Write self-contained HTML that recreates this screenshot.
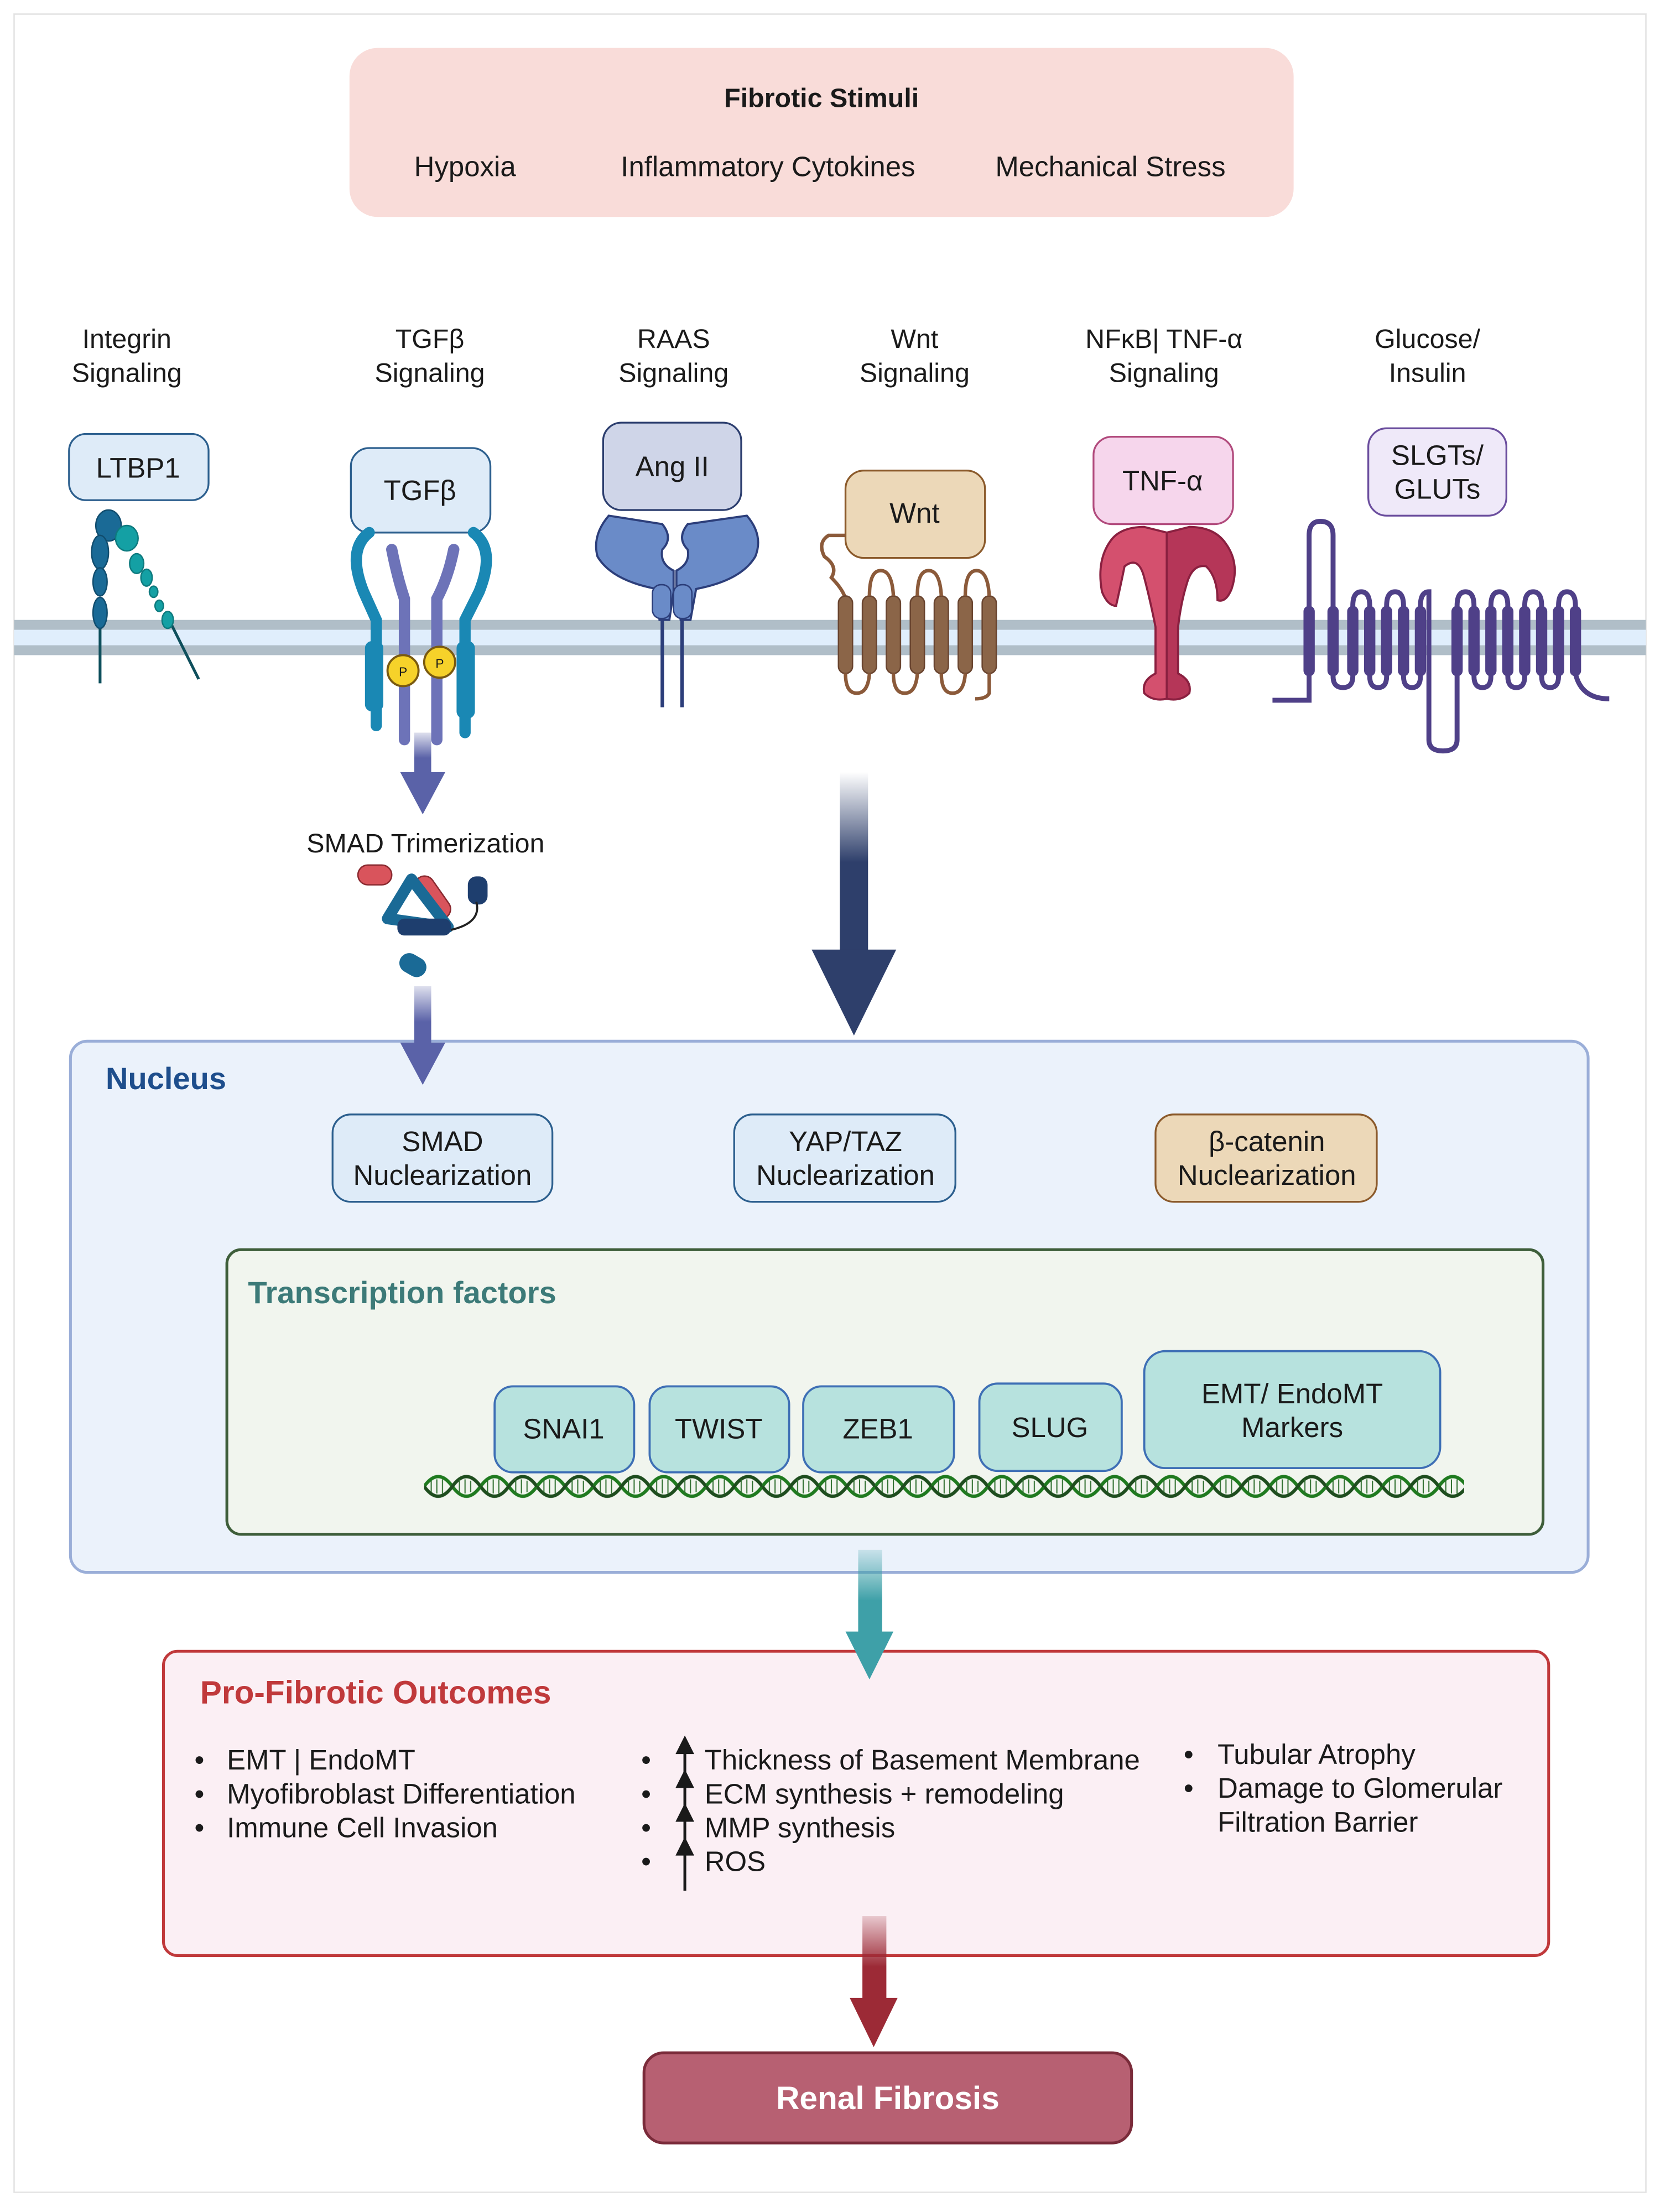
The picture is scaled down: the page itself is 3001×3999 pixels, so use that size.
<!DOCTYPE html>
<html><head><meta charset="utf-8"><style>
html,body{margin:0;padding:0;background:#fff}
svg{display:block}
text{font-family:"Liberation Sans",sans-serif;fill:#1a1a1a}
</style></head><body>
<svg width="3001" height="3999" viewBox="0 0 1178 1570" preserveAspectRatio="none" xmlns="http://www.w3.org/2000/svg">
<defs>
<pattern id="dna" x="301" y="1045" width="40" height="20" patternUnits="userSpaceOnUse">
<path d="M0 10 Q10 -4 20 10 T40 10" fill="none" stroke="#1f7a1f" stroke-width="2.4"/>
<path d="M0 10 Q10 24 20 10 T40 10" fill="none" stroke="#1e4d1e" stroke-width="2.4"/>
<path d="M5 6 V14 M9 5 V15 M13 5 V15 M25 5 V15 M29 5 V15 M33 6 V14" stroke="#2e6e2e" stroke-width="0.8"/>
</pattern>
<linearGradient id="gNavy" x1="0" y1="0" x2="0" y2="1"><stop offset="0" stop-color="#2e3f6b" stop-opacity="0"/><stop offset="0.5" stop-color="#2e3f6b"/><stop offset="1" stop-color="#2e3f6b"/></linearGradient>
<linearGradient id="gPurp" x1="0" y1="0" x2="0" y2="1"><stop offset="0" stop-color="#5a62a8" stop-opacity="0.2"/><stop offset="0.6" stop-color="#5a62a8"/></linearGradient>
<linearGradient id="gTeal" x1="0" y1="0" x2="0" y2="1"><stop offset="0" stop-color="#3ea0a8" stop-opacity="0.2"/><stop offset="0.6" stop-color="#3ea0a8"/></linearGradient>
<linearGradient id="gRed" x1="0" y1="0" x2="0" y2="1"><stop offset="0" stop-color="#9c2a36" stop-opacity="0.2"/><stop offset="0.6" stop-color="#9c2a36"/></linearGradient>
</defs>
<rect x="10" y="10" width="1158" height="1546" fill="#fff" stroke="#e2e2e2" stroke-width="1"/>

<rect x="248" y="34" width="670" height="120" rx="20" fill="#f9dcd9"/>
<text x="583" y="76" text-anchor="middle" font-size="19" font-weight="bold">Fibrotic Stimuli</text>
<text x="330" y="125" text-anchor="middle" font-size="20">Hypoxia</text>
<text x="545" y="125" text-anchor="middle" font-size="20">Inflammatory Cytokines</text>
<text x="788" y="125" text-anchor="middle" font-size="20">Mechanical Stress</text>

<g font-size="19" text-anchor="middle">
<text x="90" y="247">Integrin</text><text x="90" y="271">Signaling</text>
<text x="305" y="247">TGFβ</text><text x="305" y="271">Signaling</text>
<text x="478" y="247">RAAS</text><text x="478" y="271">Signaling</text>
<text x="649" y="247">Wnt</text><text x="649" y="271">Signaling</text>
<text x="826" y="247">NFκB| TNF-α</text><text x="826" y="271">Signaling</text>
<text x="1013" y="247">Glucose/</text><text x="1013" y="271">Insulin</text>
</g>

<rect x="10" y="440" width="1158" height="25" fill="#e0eefc"/>
<rect x="10" y="440" width="1158" height="7" fill="#b0bec8"/>
<rect x="10" y="458" width="1158" height="7" fill="#b0bec8"/>

<g font-size="20" text-anchor="middle">
<rect x="49" y="308" width="99" height="47" rx="12" fill="#deebf8" stroke="#2c5f8e" stroke-width="1.3"/>
<text x="98" y="339">LTBP1</text>
<rect x="249" y="318" width="99" height="60" rx="13" fill="#deebf8" stroke="#2c5f8e" stroke-width="1.3"/>
<text x="298" y="355">TGFβ</text>
<rect x="428" y="300" width="98" height="62" rx="13" fill="#cfd5e8" stroke="#2c3e6e" stroke-width="1.3"/>
<text x="477" y="338">Ang II</text>
<rect x="600" y="334" width="99" height="62" rx="13" fill="#ecd8b8" stroke="#8b5a2b" stroke-width="1.3"/>
<text x="649" y="371">Wnt</text>
<rect x="776" y="310" width="99" height="62" rx="13" fill="#f6d6ec" stroke="#b14a7c" stroke-width="1.3"/>
<text x="825" y="348">TNF-α</text>
<rect x="971" y="304" width="98" height="62" rx="13" fill="#efe9f9" stroke="#6b4e9e" stroke-width="1.3"/>
<text x="1020" y="330">SLGTs/</text><text x="1020" y="354">GLUTs</text>
</g>

<g stroke="#0e4f5c" stroke-width="2">
<line x1="71" y1="440" x2="71" y2="485"/><line x1="120" y1="440" x2="141" y2="482"/>
</g>
<g fill="#1a6a96" stroke="#114d6e" stroke-width="1">
<ellipse cx="77" cy="373" rx="9" ry="11"/><ellipse cx="71" cy="392" rx="6" ry="12"/><ellipse cx="71" cy="413" rx="5" ry="10"/><ellipse cx="71" cy="435" rx="5" ry="11"/>
</g>
<g fill="#14a0a4" stroke="#0e7a7e" stroke-width="1">
<ellipse cx="90" cy="382" rx="8" ry="9"/><ellipse cx="97" cy="400" rx="5" ry="7"/><ellipse cx="104" cy="410" rx="4" ry="6"/><ellipse cx="109" cy="420" rx="3" ry="4"/><ellipse cx="113" cy="430" rx="3" ry="4"/><ellipse cx="119" cy="440" rx="4" ry="6"/>
</g>

<g fill="none" stroke-linecap="round">
<path d="M262 378 Q246 390 258 420 L267 440 V515" stroke="#1a88b4" stroke-width="8"/>
<path d="M336 378 Q352 390 340 420 L330 440 V520" stroke="#1a88b4" stroke-width="8"/>
<path d="M278 390 Q282 410 287 425 V525" stroke="#6d73b8" stroke-width="8"/>
<path d="M322 390 Q318 410 310 425 V525" stroke="#6d73b8" stroke-width="8"/>
</g>
<rect x="259" y="455" width="13" height="50" rx="5" fill="#1a88b4"/>
<rect x="324" y="455" width="13" height="55" rx="5" fill="#1a88b4"/>
<circle cx="286" cy="476" r="11" fill="#f6d22a" stroke="#7a5a10" stroke-width="1.5"/><text x="286" y="480" font-size="9" text-anchor="middle">P</text>
<circle cx="312" cy="470" r="11" fill="#f6d22a" stroke="#7a5a10" stroke-width="1.5"/><text x="312" y="474" font-size="9" text-anchor="middle">P</text>

<path d="M432 366 Q420 380 424 395 Q434 412 466 418 L468 440 H475 L478 420 V405 Q468 400 470 390 Q478 382 470 372 Z" fill="#6a8bc8" stroke="#2c3e7a" stroke-width="1.5"/>
<path d="M530 366 Q542 380 536 395 Q526 412 494 418 L490 440 H483 L480 420 V405 Q490 400 488 390 Q480 382 488 372 Z" fill="#6a8bc8" stroke="#2c3e7a" stroke-width="1.5"/>
<rect x="463" y="415" width="13" height="24" rx="6" fill="#6a8bc8" stroke="#2c3e7a"/>
<rect x="478" y="415" width="13" height="24" rx="6" fill="#6a8bc8" stroke="#2c3e7a"/>
<line x1="470" y1="440" x2="470" y2="502" stroke="#2c3e7a" stroke-width="2.5"/>
<line x1="484" y1="440" x2="484" y2="502" stroke="#2c3e7a" stroke-width="2.5"/>

<path d="M600 380 H588 Q580 385 585 395 Q595 402 590 410 Q598 418 600 425" fill="none" stroke="#8b5a3a" stroke-width="2.5"/>
<g fill="#8b6548" stroke="#6a4530" stroke-width="1">
<rect x="595" y="423" width="10" height="55" rx="5"/><rect x="612" y="423" width="10" height="55" rx="5"/><rect x="629" y="423" width="10" height="55" rx="5"/><rect x="646" y="423" width="10" height="55" rx="5"/><rect x="663" y="423" width="10" height="55" rx="5"/><rect x="680" y="423" width="10" height="55" rx="5"/><rect x="697" y="423" width="10" height="55" rx="5"/>
</g>
<path d="M617 423 Q617 405 625 405 Q633 405 634 423 M651 423 Q651 405 659 405 Q667 405 668 423 M685 423 Q685 405 693 405 Q701 405 702 423 M600 478 Q600 492 608 492 Q616 492 617 478 M634 478 Q634 492 642 492 Q650 492 651 478 M668 478 Q668 492 676 492 Q684 492 685 478 M702 478 V492 Q700 496 692 496" fill="none" stroke="#8b5a3a" stroke-width="2.5"/>

<!-- TNF receptor -->
<path d="M812 374 Q795 374 788 384 Q778 398 782 420 Q786 430 792 430 Q796 412 798 402 Q808 394 812 410 Q816 425 820 445 V478 Q810 483 812 492 Q818 498 828 496 V445 L828 378 Z" fill="#d4506e" stroke="#8a2040" stroke-width="1.5"/>
<path d="M844 374 Q862 374 870 386 Q880 400 874 418 Q870 428 864 426 Q864 410 856 402 Q846 400 842 415 Q838 428 836 445 V478 Q846 483 844 492 Q838 498 828 496 V445 L828 378 Z" fill="#b53658" stroke="#8a2040" stroke-width="1.5"/>

<path d="M903 497 H929 V380 Q929 370 937 370 Q946 370 946 380 V480 M946 430 V480 Q946 488 953 488 Q960 488 960 480 V430 Q960 420 966 420 Q972 420 972 430 V480 Q972 488 978 488 Q984 488 984 480 V430 Q984 420 990 420 Q996 420 996 430 V480 Q996 488 1002 488 Q1008 488 1008 480 V430 Q1008 420 1014 420 V525 Q1014 533 1024 533 Q1034 533 1034 525 V430 Q1034 420 1040 420 Q1046 420 1046 430 V480 Q1046 488 1052 488 Q1058 488 1058 480 V430 Q1058 420 1064 420 Q1070 420 1070 430 V480 Q1070 488 1076 488 Q1082 488 1082 480 V430 Q1082 420 1088 420 Q1094 420 1094 430 V480 Q1094 488 1100 488 Q1106 488 1106 480 V430 Q1106 420 1112 420 Q1118 420 1118 430 V478 Q1122 496 1142 496" fill="none" stroke="#4f4088" stroke-width="3.5"/>
<g fill="#4f4088"><rect x="925" y="430" width="8" height="50" rx="4"/><rect x="942" y="430" width="8" height="50" rx="4"/><rect x="956" y="430" width="8" height="50" rx="4"/><rect x="968" y="430" width="8" height="50" rx="4"/><rect x="980" y="430" width="8" height="50" rx="4"/><rect x="992" y="430" width="8" height="50" rx="4"/><rect x="1004" y="430" width="8" height="50" rx="4"/><rect x="1030" y="430" width="8" height="50" rx="4"/><rect x="1042" y="430" width="8" height="50" rx="4"/><rect x="1054" y="430" width="8" height="50" rx="4"/><rect x="1066" y="430" width="8" height="50" rx="4"/><rect x="1078" y="430" width="8" height="50" rx="4"/><rect x="1090" y="430" width="8" height="50" rx="4"/><rect x="1102" y="430" width="8" height="50" rx="4"/><rect x="1114" y="430" width="8" height="50" rx="4"/></g>

<rect x="294" y="520" width="12" height="30" fill="url(#gPurp)"/>
<polygon points="284,548 316,548 300,578" fill="#5a62a8"/>
<text x="302" y="605" font-size="19" text-anchor="middle">SMAD Trimerization</text>
<rect x="254" y="614" width="24" height="14" rx="7" fill="#d9545c" stroke="#8a2a30"/>
<rect x="300" y="620" width="14" height="34" rx="7" fill="#d9545c" stroke="#8a2a30" transform="rotate(-35 307 637)"/>
<path d="M292 624 L275 652 L318 658 Z" fill="none" stroke="#1a6a96" stroke-width="8" stroke-linejoin="round"/>
<rect x="282" y="652" width="38" height="12" rx="5" fill="#1e3e6e"/>
<rect x="332" y="622" width="14" height="20" rx="6" fill="#1e3e6e"/>
<path d="M320 660 Q342 655 338 640" fill="none" stroke="#222" stroke-width="1.5"/>
<rect x="283" y="678" width="20" height="14" rx="7" fill="#1a6a96" transform="rotate(30 293 685)"/>

<rect x="596" y="548" width="20" height="128" fill="url(#gNavy)"/>
<polygon points="576,674 636,674 606,735" fill="#2e3f6b"/>

<rect x="50" y="739" width="1077" height="377" rx="12" fill="#ebf2fb" stroke="#9aaed8" stroke-width="2"/>
<text x="75" y="773" font-size="22" font-weight="bold" style="fill:#1e4e8c">Nucleus</text>
<g font-size="20" text-anchor="middle">
<rect x="236" y="791" width="156" height="62" rx="13" fill="#deebf8" stroke="#2c5f8e" stroke-width="1.3"/>
<text x="314" y="817">SMAD</text><text x="314" y="841">Nuclearization</text>
<rect x="521" y="791" width="157" height="62" rx="13" fill="#deebf8" stroke="#2c5f8e" stroke-width="1.3"/>
<text x="600" y="817">YAP/TAZ</text><text x="600" y="841">Nuclearization</text>
<rect x="820" y="791" width="157" height="62" rx="13" fill="#ecd8b8" stroke="#8b5a2b" stroke-width="1.3"/>
<text x="899" y="817">β-catenin</text><text x="899" y="841">Nuclearization</text>
</g>

<!-- SMAD second arrow (on top of nucleus) -->
<rect x="294" y="700" width="12" height="42" fill="url(#gPurp)"/>
<polygon points="284,740 316,740 300,770" fill="#5a62a8"/>

<rect x="161" y="887" width="934" height="202" rx="10" fill="#f1f5ee" stroke="#3e5e3a" stroke-width="2"/>
<text x="176" y="925" font-size="22" font-weight="bold" style="fill:#3c7a78">Transcription factors</text>
<g fill="#b7e2de" stroke="#3e6fb5" stroke-width="1.5">
<rect x="351" y="984" width="99" height="61" rx="13"/>
<rect x="461" y="984" width="99" height="61" rx="13"/>
<rect x="570" y="984" width="107" height="61" rx="13"/>
<rect x="695" y="982" width="101" height="62" rx="13"/>
<rect x="812" y="959" width="210" height="83" rx="15"/>
</g>
<g font-size="20" text-anchor="middle">
<text x="400" y="1021">SNAI1</text><text x="510" y="1021">TWIST</text><text x="623" y="1021">ZEB1</text><text x="745" y="1020">SLUG</text>
<text x="917" y="996">EMT/ EndoMT</text><text x="917" y="1020">Markers</text>
</g>
<rect x="301" y="1045" width="738" height="20" fill="url(#dna)"/>

<rect x="116" y="1172" width="983" height="216" rx="10" fill="#fbeff4" stroke="#c0393b" stroke-width="2"/>
<text x="142" y="1209" font-size="23" font-weight="bold" style="fill:#c0393b">Pro-Fibrotic Outcomes</text>
<g font-size="20">
<text x="138" y="1256">•</text><text x="161" y="1256">EMT | EndoMT</text>
<text x="138" y="1280">•</text><text x="161" y="1280">Myofibroblast Differentiation</text>
<text x="138" y="1304">•</text><text x="161" y="1304">Immune Cell Invasion</text>
<text x="455" y="1256">•</text><text x="500" y="1256">Thickness of Basement Membrane</text>
<text x="455" y="1280">•</text><text x="500" y="1280">ECM synthesis + remodeling</text>
<text x="455" y="1304">•</text><text x="500" y="1304">MMP synthesis</text>
<text x="455" y="1328">•</text><text x="500" y="1328">ROS</text>
<text x="840" y="1252">•</text><text x="864" y="1252">Tubular Atrophy</text>
<text x="840" y="1276">•</text><text x="864" y="1276">Damage to Glomerular</text>
<text x="864" y="1300">Filtration Barrier</text>
</g>
<g stroke="#1a1a1a" stroke-width="2" fill="#1a1a1a">
<line x1="486" y1="1240" x2="486" y2="1342"/>
<polygon points="481,1244 486,1234 491,1244"/><polygon points="481,1268 486,1258 491,1268"/><polygon points="481,1292 486,1282 491,1292"/><polygon points="481,1316 486,1306 491,1316"/>
</g>

<!-- teal arrow (on top) -->
<rect x="609" y="1100" width="17" height="60" fill="url(#gTeal)"/>
<polygon points="600,1158 634,1158 617,1192" fill="#3ea0a8"/>

<rect x="612" y="1360" width="17" height="60" fill="url(#gRed)"/>
<polygon points="603,1418 637,1418 620,1453" fill="#9c2a36"/>

<rect x="457" y="1457" width="346" height="64" rx="14" fill="#b76072" stroke="#7a2b3a" stroke-width="2"/>
<text x="630" y="1497" font-size="23" font-weight="bold" text-anchor="middle" style="fill:#ffffff">Renal Fibrosis</text>
</svg>
</body></html>
